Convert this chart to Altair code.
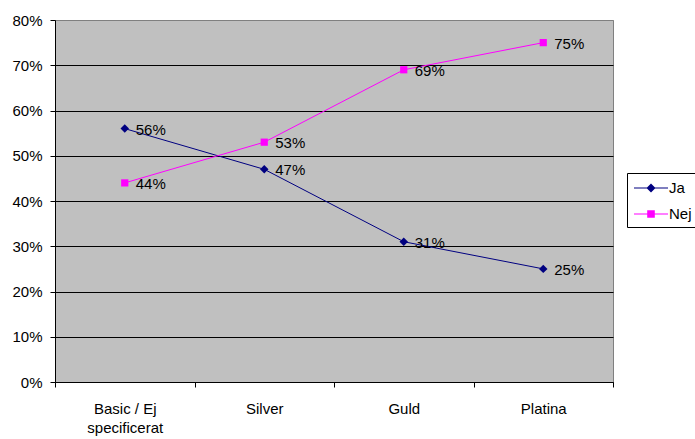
import altair as alt
import pandas as pd

# Chart data
categories = ["Basic / Ej specificerat", "Silver", "Guld", "Platina"]
series_names = ["Ja", "Nej"]
ja_values = [56, 47, 31, 25]
nej_values = [44, 53, 69, 75]
series_colors = ["#000080", "#FF00FF"]
y_ticks = [0, 10, 20, 30, 40, 50, 60, 70, 80]

FONT = "Liberation Sans"

rows = []
for name, values in zip(series_names, [ja_values, nej_values]):
    for cat, v in zip(categories, values):
        rows.append({"kategori": cat, "serie": name, "andel": v})
df = pd.DataFrame(rows)

# Legend symbols: a thin line with the series marker in its middle
legend_line = "M-0.8,-0.05H2.6V0.05H-0.8Z"
legend_paths = [
    legend_line + "M0.45,0L0.9,-0.45L1.35,0L0.9,0.45Z",
    legend_line + "M0.52,-0.38H1.28V0.38H0.52Z",
]

color_scale = alt.Scale(domain=series_names, range=series_colors)

x_enc = alt.X(
    "kategori:N",
    sort=categories,
    scale=alt.Scale(type="band", paddingInner=0, paddingOuter=0),
    axis=alt.Axis(
        title=None,
        labelAngle=0,
        tickBand="extent",
        tickSize=5,
        tickColor="black",
        domainColor="black",
        labelPadding=14,
        labelFontSize=15,
        labelFont=FONT,
        labelColor="black",
        labelLineHeight=19,
        labelExpr="datum.value === 'Basic / Ej specificerat' ? ['Basic / Ej', 'specificerat'] : datum.value",
        grid=False,
    ),
)

y_enc = alt.Y(
    "andel:Q",
    scale=alt.Scale(domain=[0, 80], nice=False),
    axis=alt.Axis(
        title=None,
        values=y_ticks,
        labelExpr="datum.value + '%'",
        tickSize=5,
        tickColor="black",
        domainColor="black",
        labelPadding=8,
        labelFontSize=15,
        labelFont=FONT,
        labelColor="black",
        grid=True,
        gridColor={"condition": {"test": "datum.value >= 80", "value": "#808080"}, "value": "black"},
        gridOpacity=1,
    ),
)

series_legend = alt.Legend(
    title=None,
    orient="none",
    legendX=572,
    legendY=153,
    direction="vertical",
    strokeColor="black",
    fillColor="white",
    padding=5,
    labelFontSize=15,
    labelFont=FONT,
    labelColor="black",
    labelOffset=17,
    rowPadding=8,
    symbolSize=400,
    symbolStrokeWidth=0,
    symbolOpacity=1,
)

base = alt.Chart(df)

# Invisible layer that supplies the legend entries (line + marker symbols)
legend_source = base.mark_point(filled=True, opacity=0, size=400).encode(
    x=x_enc,
    y=y_enc,
    color=alt.Color("serie:N", scale=color_scale, legend=series_legend),
    shape=alt.Shape(
        "serie:N",
        scale=alt.Scale(domain=series_names, range=legend_paths),
        legend=series_legend,
    ),
)

lines = base.mark_line(strokeWidth=1).encode(
    x=x_enc,
    y=y_enc,
    color=alt.Color("serie:N", scale=color_scale),
)

ja_points = base.transform_filter("datum.serie === 'Ja'").mark_point(
    shape="diamond", filled=True, opacity=1, size=72
).encode(x=x_enc, y=y_enc, color=alt.Color("serie:N", scale=color_scale))

nej_points = base.transform_filter("datum.serie === 'Nej'").mark_point(
    shape="square", filled=True, opacity=1, size=52
).encode(x=x_enc, y=y_enc, color=alt.Color("serie:N", scale=color_scale))

labels = base.mark_text(
    align="left", baseline="middle", dx=11, dy=1, fontSize=15, font=FONT, color="black"
).transform_calculate(etikett="datum.andel + '%'").encode(
    x=x_enc,
    y=y_enc,
    text="etikett:N",
)

chart = (
    alt.layer(legend_source, lines, ja_points, nej_points, labels)
    .properties(
        width=558,
        height=362,
        autosize=alt.AutoSizeParams(type="none"),
        padding={"left": 55, "top": 20, "right": 82, "bottom": 57},
        background="white",
    )
    .configure(font=FONT)
    .configure_view(fill="#C0C0C0", stroke="#808080", strokeWidth=1)
)

chart.save("out.html", embed_options={"renderer": "svg", "actions": False})
